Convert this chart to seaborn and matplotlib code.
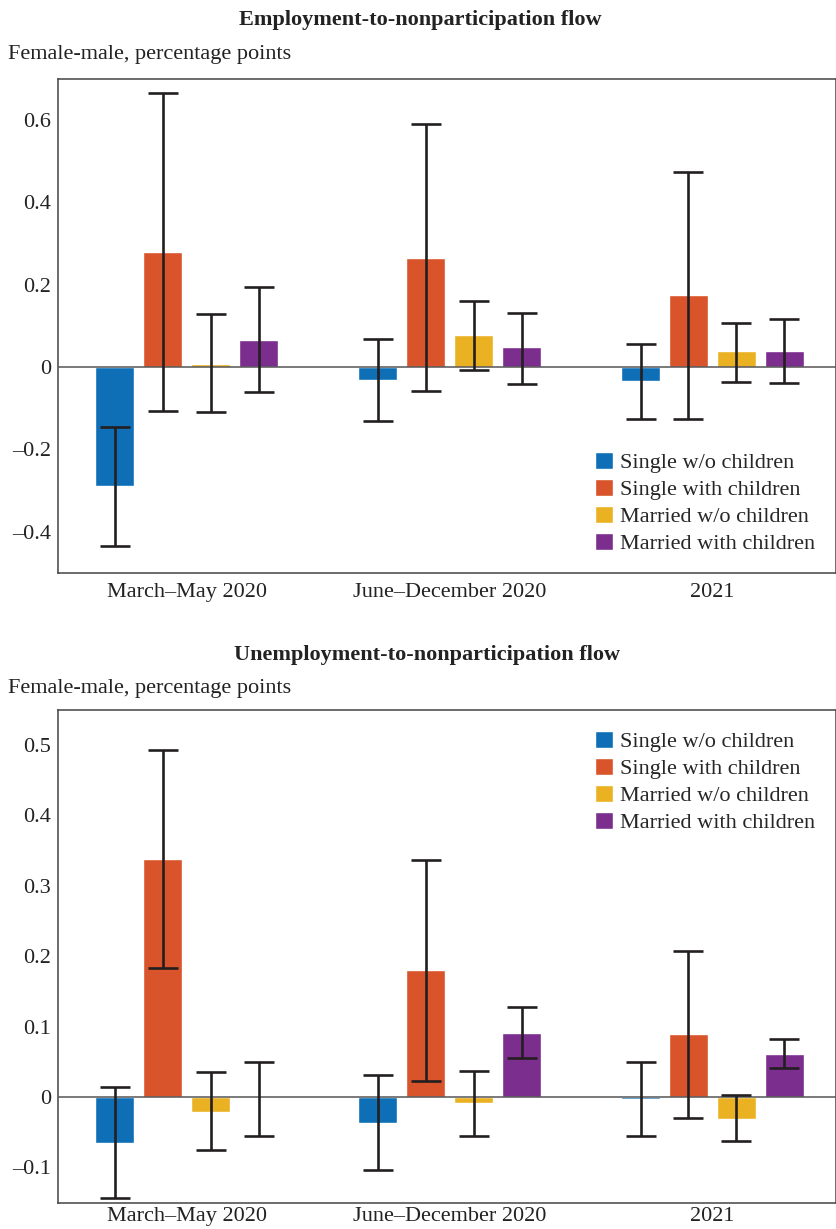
import numpy as np
import pandas as pd
import seaborn as sns
from matplotlib import pyplot as plt
from matplotlib.ticker import FuncFormatter

periods = ["March–May 2020", "June–December 2020", "2021"]
groups = ["Single w/o children", "Single with children",
          "Married w/o children", "Married with children"]
colors = ["#0E6FB7", "#D9542A", "#EAB123", "#7B2E8D"]

# employment-to-nonparticipation: value, lower, upper (per group, per period)
emp_val = [[-0.29, -0.032, -0.034], [0.28, 0.266, 0.174],
           [0.008, 0.079, 0.038], [0.067, 0.048, 0.038]]
emp_lo = [[-0.435, -0.132, -0.126], [-0.106, -0.058, -0.127],
          [-0.11, -0.006, -0.035], [-0.061, -0.04, -0.039]]
emp_hi = [[-0.145, 0.069, 0.057], [0.665, 0.59, 0.473],
          [0.129, 0.161, 0.107], [0.194, 0.131, 0.116]]

# unemployment-to-nonparticipation
une_val = [[-0.065, -0.037, -0.003], [0.338, 0.18, 0.089],
           [-0.021, -0.009, -0.031], [-0.002, 0.091, 0.061]]
une_lo = [[-0.143, -0.104, -0.055], [0.183, 0.023, -0.030],
          [-0.076, -0.056, -0.063], [-0.055, 0.055, 0.041]]
une_hi = [[0.014, 0.031, 0.049], [0.493, 0.337, 0.208],
          [0.035, 0.037, 0.003], [0.049, 0.128, 0.082]]

sns.set_theme(style='white')
plt.rcParams['font.family'] = ['Liberation Serif', 'DejaVu Serif']
plt.rcParams['font.size'] = 16


def make_df(vals):
    rows = []
    for g, gv in zip(groups, vals):
        for p, v in zip(periods, gv):
            rows.append({'period': p, 'group': g, 'value': v})
    return pd.DataFrame(rows)


def draw(ax, vals, lo, hi, ylim, yticks, legend_loc, anchor, xpad):
    df = make_df(vals)
    sns.barplot(data=df, x='period', y='value', hue='group', order=periods,
                hue_order=groups, palette=colors, saturation=1, width=0.73,
                gap=0.19, errorbar=None, ax=ax, zorder=2)
    ax.axhline(0, color='#555555', lw=1.1, zorder=3)
    bar_sets = list(ax.containers)
    for i, cont in enumerate(bar_sets):
        for j, bar in enumerate(cont):
            xc = bar.get_x() + bar.get_width() / 2
            v = vals[i][j]
            ax.errorbar(xc, v, yerr=[[v - lo[i][j]], [hi[i][j] - v]],
                        fmt='none', ecolor='#231F20', elinewidth=1.9,
                        capsize=10.5, capthick=1.9, zorder=4)
    ax.set_xlim(-0.49, 2.47)
    ax.set_ylim(*ylim)
    ax.set_yticks(yticks)
    ax.yaxis.set_major_formatter(FuncFormatter(lambda v, p: f"{v:g}".replace('-', '–')))
    ax.tick_params(axis='y', direction='in', length=8, width=1, color='#444444',
                   labelsize=16, pad=5, labelcolor='#222222')
    ax.tick_params(axis='x', length=0, labelsize=16, pad=xpad, labelcolor='#222222')
    ax.set_xlabel('')
    ax.set_ylabel('')
    for s in ax.spines.values():
        s.set_color('#444444')
        s.set_linewidth(1.1)
    ax.legend(loc=legend_loc, bbox_to_anchor=anchor, frameon=False, fontsize=16,
              handlelength=0.8, handleheight=0.8, handletextpad=0.35,
              labelspacing=0.26, borderaxespad=0)


fig = plt.figure(figsize=(8.37, 12.29), dpi=100)
ax1 = fig.add_axes([0.0693, 0.5338, 0.9295, 0.402])
ax2 = fig.add_axes([0.0693, 0.0215, 0.9295, 0.401])

draw(ax1, emp_val, emp_lo, emp_hi, (-0.5, 0.7), [-0.4, -0.2, 0, 0.2, 0.4, 0.6],
     'lower right', (0.985, 0.02), 7)
draw(ax2, une_val, une_lo, une_hi, (-0.15, 0.55), [-0.1, 0, 0.1, 0.2, 0.3, 0.4, 0.5],
     'upper right', (0.985, 0.975), 3)

fig.text(420 / 837, 1 - 20 / 1229, 'Employment-to-nonparticipation flow',
         ha='center', va='center', fontsize=16, fontweight='bold', color='#222222')
fig.text(8 / 837, 1 - 55 / 1229, 'Female-male, percentage points',
         ha='left', va='center', fontsize=16, color='#222222')
fig.text(427 / 837, 1 - 655 / 1229, 'Unemployment-to-nonparticipation flow',
         ha='center', va='center', fontsize=16, fontweight='bold', color='#222222')
fig.text(8 / 837, 1 - 688 / 1229, 'Female-male, percentage points',
         ha='left', va='center', fontsize=16, color='#222222')

plt.savefig('out.png', dpi=100)
